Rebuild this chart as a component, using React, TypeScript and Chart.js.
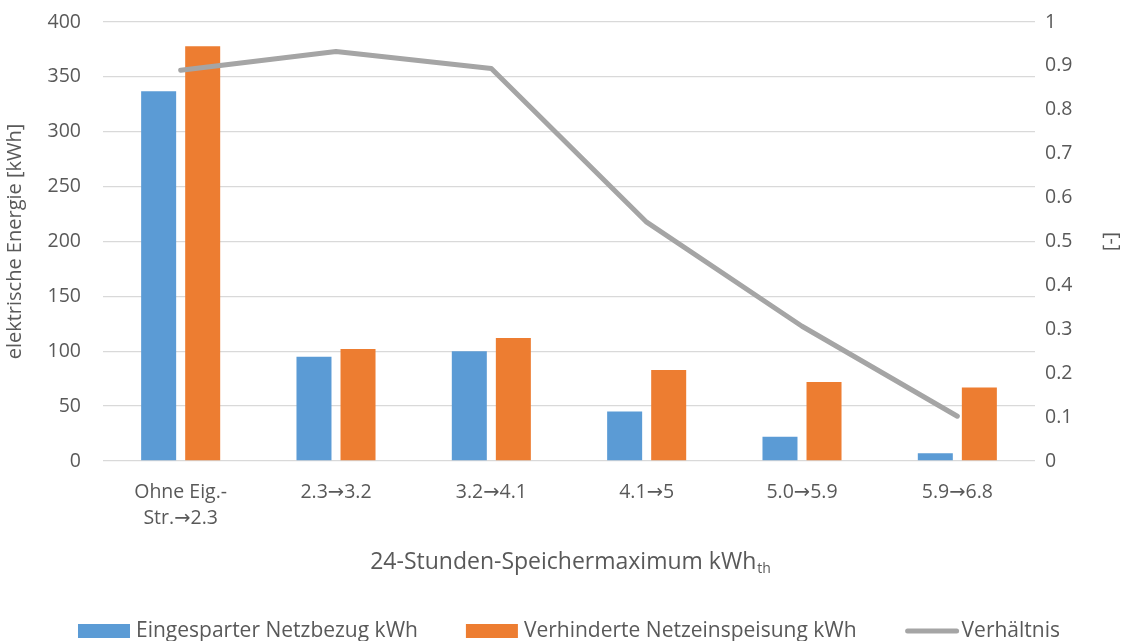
import React, { useEffect, useRef } from "react";
import { Chart, registerables } from "chart.js";

Chart.register(...registerables);

const categories: (string | string[])[] = [
  ["Ohne Eig.-", "Str.→2.3"],
  "2.3→3.2",
  "3.2→4.1",
  "4.1→5",
  "5.0→5.9",
  "5.9→6.8",
];
const netzbezug = [337, 95, 100, 45, 22, 7];
const einspeisung = [378, 102, 112, 83, 72, 67];
const verhaeltnis = [0.89, 0.933, 0.894, 0.544, 0.307, 0.102];

const seriesNames = [
  "Eingesparter Netzbezug kWh",
  "Verhinderte Netzeinspeisung kWh",
  "Verhältnis",
];
const leftTitle = "elektrische Energie [kWh]";
const rightTitle = "[-]";
const xTitleMain = "24-Stunden-Speichermaximum kWh";
const xTitleSub = "th";

const FONT = "'Open Sans', 'DejaVu Sans', sans-serif";
const TEXT = "#595959";
const BLUE = "#5B9BD5";
const ORANGE = "#ED7D31";
const GRAY = "#A5A5A5";

export default function App() {
  const ref = useRef<HTMLCanvasElement | null>(null);
  useEffect(() => {
    if (!ref.current) return;
    const extrasPlugin = {
      id: "extras",
      afterDraw(chart: any) {
        const ctx = chart.ctx;
        const area = chart.chartArea;
        const cx = (area.left + area.right) / 2;
        ctx.save();
        ctx.fillStyle = TEXT;
        ctx.textBaseline = "middle";
        ctx.textAlign = "left";
        // x axis title with subscript
        ctx.font = `23px ${FONT}`;
        const w1 = ctx.measureText(xTitleMain).width;
        ctx.font = `14px ${FONT}`;
        const w2 = ctx.measureText(xTitleSub).width;
        const ty = area.bottom + 101;
        const tx = cx - (w1 + w2) / 2 + 1;
        ctx.font = `23px ${FONT}`;
        ctx.fillText(xTitleMain, tx, ty);
        ctx.font = `14px ${FONT}`;
        ctx.fillText(xTitleSub, tx + w1 + 1, ty + 7);

        // legend
        ctx.font = `21px ${FONT}`;
        const items = chart.data.datasets.map((ds: any) => ({
          label: ds.label,
          isLine: ds.type === "line",
          color: ds.type === "line" ? ds.borderColor : ds.backgroundColor,
        }));
        const boxW = 52;
        const lineW = 55;
        const gapAfterBox = 6;
        const gapAfterLine = 2;
        const itemGap = 48;
        const widths = items.map((it: any) => {
          const tw = ctx.measureText(it.label).width;
          return it.isLine ? lineW + gapAfterLine + tw : boxW + gapAfterBox + tw;
        });
        const total = widths.reduce((a: number, b: number) => a + b, 0) + itemGap * (items.length - 1);
        let x = cx - total / 2;
        const ly = 631;
        items.forEach((it: any, i: number) => {
          if (it.isLine) {
            ctx.strokeStyle = it.color;
            ctx.lineWidth = 5;
            ctx.lineCap = "round";
            ctx.beginPath();
            ctx.moveTo(x + 3, ly);
            ctx.lineTo(x + lineW - 3, ly);
            ctx.stroke();
            ctx.fillStyle = TEXT;
            ctx.fillText(it.label, x + lineW + gapAfterLine, ly);
          } else {
            ctx.fillStyle = it.color;
            ctx.fillRect(x, ly - 7, boxW, 14);
            ctx.fillStyle = TEXT;
            ctx.fillText(it.label, x + boxW + gapAfterBox, ly);
          }
          x += widths[i] + itemGap;
        });
        ctx.restore();
      },
    };
    const chart = new Chart(ref.current, {
      type: "bar",
      data: {
        labels: categories,
        datasets: [
          {
            type: "bar",
            label: seriesNames[0],
            data: netzbezug,
            backgroundColor: BLUE,
            yAxisID: "y",
            order: 1,
            categoryPercentage: 0.567,
            barPercentage: 0.795,
          },
          {
            type: "bar",
            label: seriesNames[1],
            data: einspeisung,
            backgroundColor: ORANGE,
            yAxisID: "y",
            order: 1,
            categoryPercentage: 0.567,
            barPercentage: 0.795,
          },
          {
            type: "line",
            label: seriesNames[2],
            data: verhaeltnis,
            borderColor: GRAY,
            backgroundColor: GRAY,
            borderWidth: 5,
            borderCapStyle: "round",
            borderJoinStyle: "round",
            pointRadius: 0,
            yAxisID: "y1",
            order: 0,
            tension: 0,
          },
        ],
      } as any,
      options: {
        animation: false,
        responsive: true,
        maintainAspectRatio: false,
        layout: { padding: { top: 22, bottom: 0, left: 0, right: 0 } },
        plugins: {
          tooltip: { enabled: false },
          legend: { display: false },
        },
        scales: {
          x: {
            grid: { display: false },
            border: { display: false },
            ticks: {
              color: TEXT,
              font: { family: FONT, size: 19.5, lineHeight: 1.3 },
              padding: 11,
              maxRotation: 0,
              autoSkip: false,
            },
            afterFit(scale: any) {
              scale.height = 641 - 461;
            },
          },
          y: {
            position: "left",
            min: 0,
            max: 400,
            ticks: {
              stepSize: 50,
              color: TEXT,
              padding: 4,
              font: { family: FONT, size: 19.5 },
            },
            grid: {
              color: "#D9D9D9",
              lineWidth: 1.3,
              drawTicks: true,
              tickLength: 18,
              tickColor: "rgba(0,0,0,0)",
            },
            border: { display: false },
            title: {
              display: true,
              text: leftTitle,
              color: TEXT,
              font: { family: FONT, size: 20 },
              padding: 3,
            },
            afterFit(scale: any) {
              scale.width = 103;
            },
          },
          y1: {
            position: "right",
            min: 0,
            max: 1,
            ticks: {
              stepSize: 0.1,
              color: TEXT,
              padding: 4,
              font: { family: FONT, size: 19.5 },
              callback: (v: any) => String(Math.round(Number(v) * 10) / 10),
            },
            grid: {
              display: true,
              drawOnChartArea: false,
              drawTicks: true,
              tickLength: 6,
              tickColor: "rgba(0,0,0,0)",
            },
            border: { display: false },
            title: {
              display: true,
              text: rightTitle,
              color: TEXT,
              font: { family: FONT, size: 19.5 },
              padding: 8,
            },
            afterFit(scale: any) {
              scale.width = 96;
            },
          },
        },
      } as any,
      plugins: [extrasPlugin],
    });
    return () => chart.destroy();
  }, []);
  return (
    <div style={{ position: "fixed", left: 0, top: 0, width: 1131, height: 641, background: "#fff" }}>
      <canvas ref={ref} />
    </div>
  );
}
